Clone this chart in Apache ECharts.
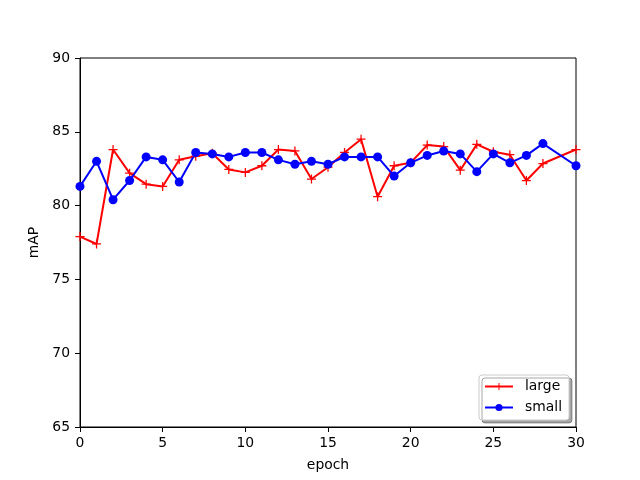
<!DOCTYPE html>
<html>
<head>
<meta charset="utf-8">
<script src="https://cdn.jsdelivr.net/npm/echarts@6/dist/echarts.min.js"></script>
<style>html,body{margin:0;padding:0;background:#fff}#c{width:640px;height:480px}</style>
</head>
<body>
<div id="c"></div>
<script>
const epochs = [0,1,2,3,4,5,6,7,8,9,10,11,12,13,14,15,16,17,18,19,20,21,22,23,24,25,26,27,28,30];
const largeVals = [77.9,77.4,83.8,82.2,81.45,81.3,83.1,83.35,83.55,82.45,82.25,82.7,83.8,83.7,81.8,82.6,83.6,84.5,80.6,82.7,82.9,84.1,84.0,82.4,84.15,83.65,83.45,81.7,82.85,83.8];
const smallVals = [81.3,83.0,80.4,81.7,83.3,83.1,81.6,83.6,83.5,83.3,83.6,83.6,83.1,82.8,83.0,82.8,83.3,83.3,83.3,82.0,82.9,83.4,83.7,83.5,82.3,83.5,82.9,83.4,84.2,82.7];
const seriesNames = ['large','small'];
const xTicks = {min:0,max:30,interval:5};
const yTicks = {min:65,max:90,interval:5};

const pair = (vals) => epochs.map((e,i)=>[e, vals[i]]);
const plus = 'path://M-0.14,-1H0.14V-0.14H1V0.14H0.14V1H-0.14V0.14H-1V-0.14H-0.14Z';
const font = 'DejaVu Sans';
const fs = 13.9;
const chart = echarts.init(document.getElementById('c'));
chart.setOption({
  animation:false,
  textStyle:{fontFamily:font},
  grid:{left:80,right:64,top:58,bottom:53,show:true,borderColor:'#000',borderWidth:1,backgroundColor:'transparent'},
  xAxis:{type:'value',min:xTicks.min,max:xTicks.max,interval:xTicks.interval,
    name:'epoch',nameLocation:'middle',nameGap:31,nameTextStyle:{color:'#000',fontSize:fs,fontFamily:font},
    axisLine:{show:true,onZero:false,lineStyle:{color:'#000',width:1}},
    axisTick:{show:true,inside:false,length:5,lineStyle:{color:'#000'}},
    axisLabel:{color:'#000',fontSize:fs,fontFamily:font,margin:9},
    splitLine:{show:false}},
  yAxis:{type:'value',min:yTicks.min,max:yTicks.max,interval:yTicks.interval,
    name:'mAP',nameLocation:'middle',nameGap:33,nameTextStyle:{color:'#000',fontSize:fs,fontFamily:font},
    axisLine:{show:true,onZero:false,lineStyle:{color:'#000',width:1}},
    axisTick:{show:true,inside:false,length:5,lineStyle:{color:'#000'}},
    axisLabel:{color:'#000',fontSize:fs,fontFamily:font,margin:10},
    splitLine:{show:false}},
  legend:{orient:'vertical',right:71,bottom:60,
    backgroundColor:'#fff',borderColor:'#ccc',borderWidth:1,borderRadius:3,
    shadowColor:'rgba(0,0,0,0.35)',shadowBlur:0,shadowOffsetX:3,shadowOffsetY:3,
    padding:[4,7,5,5],itemGap:6,itemWidth:28,itemHeight:9,
    textStyle:{color:'#000',fontSize:fs,fontFamily:font,padding:[0,0,0,7],lineHeight:15},
    data:seriesNames},
  series:[
    {name:seriesNames[0],type:'line',data:pair(largeVals),showAllSymbol:true,
     symbol:plus,symbolSize:9,color:'#ff0000',
     lineStyle:{color:'#ff0000',width:2},itemStyle:{color:'#ff0000'}},
    {name:seriesNames[1],type:'line',data:pair(smallVals),showAllSymbol:true,
     symbol:'circle',symbolSize:9,color:'#0000ff',
     lineStyle:{color:'#0000ff',width:2},itemStyle:{color:'#0000ff'}}
  ]
});
</script>
</body>
</html>
